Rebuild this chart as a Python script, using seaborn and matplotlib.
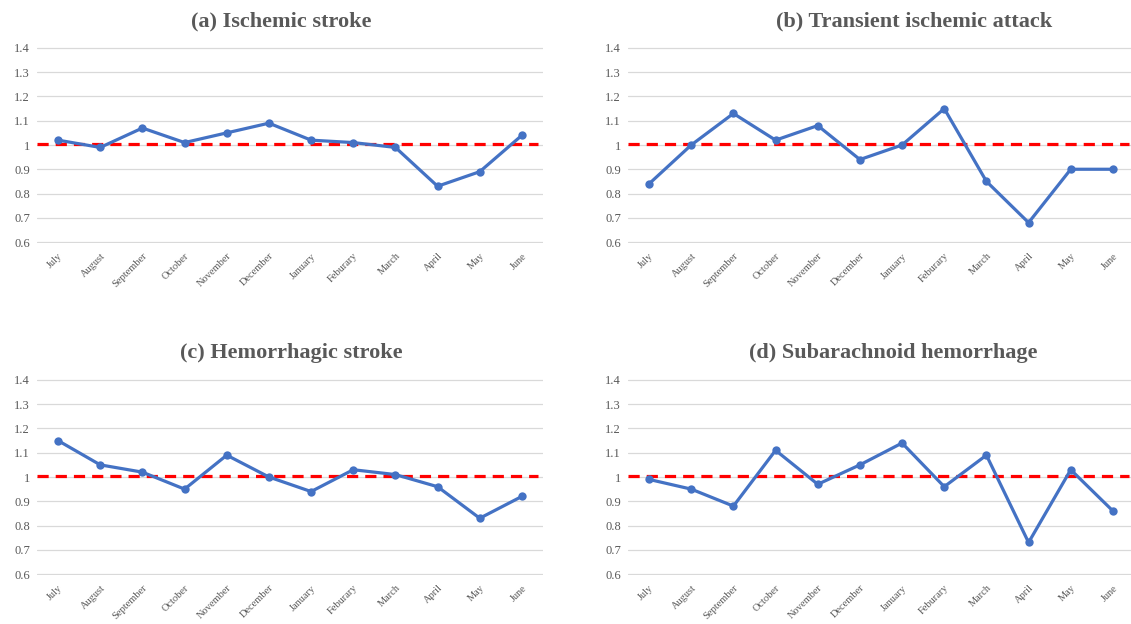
import matplotlib
matplotlib.use("Agg")
import matplotlib.pyplot as plt
import seaborn as sns
import pandas as pd

months = ["July", "August", "September", "October", "November", "December",
          "January", "Feburary", "March", "April", "May", "June"]
ischemic = [1.02, 0.99, 1.07, 1.01, 1.05, 1.09, 1.02, 1.01, 0.99, 0.83, 0.89, 1.04]
tia = [0.84, 1.00, 1.13, 1.02, 1.08, 0.94, 1.00, 1.15, 0.85, 0.68, 0.90, 0.90]
hemorrhagic = [1.15, 1.05, 1.02, 0.95, 1.09, 1.00, 0.94, 1.03, 1.01, 0.96, 0.83, 0.92]
subarachnoid = [0.99, 0.95, 0.88, 1.11, 0.97, 1.05, 1.14, 0.96, 1.09, 0.73, 1.03, 0.86]
titles = ["(a) Ischemic stroke", "(b) Transient ischemic attack",
          "(c) Hemorrhagic stroke", "(d) Subarachnoid hemorrhage"]
yticks = [0.6, 0.7, 0.8, 0.9, 1.0, 1.1, 1.2, 1.3, 1.4]
ytick_labels = ["0.6", "0.7", "0.8", "0.9", "1", "1.1", "1.2", "1.3", "1.4"]
ref_level = 1.005

sns.set_style("white")
plt.rcParams['font.family'] = ['Liberation Serif', 'DejaVu Serif']

W, H = 1131, 624
fig = plt.figure(figsize=(W / 100, H / 100), dpi=100)

# axes boxes in pixels: (left, top, right, bottom)
boxes = [(37, 48, 543, 242), (628, 48, 1134, 242),
         (37, 380, 543, 574), (628, 380, 1134, 574)]
title_pos = [(281, 21), (914, 21), (291, 353), (893, 353)]
series = [ischemic, tia, hemorrhagic, subarachnoid]

for vals, title, (l, t, r, b), (tx, ty) in zip(series, titles, boxes, title_pos):
    ax = fig.add_axes([l / W, 1 - (b + 1) / H, (r - l) / W, (b - t + 2) / H])
    df = pd.DataFrame({"month": months, "value": vals})
    df["pos"] = range(len(months))
    ax.axhline(ref_level, xmin=0, xmax=0.99, color="#FF0000", lw=2.3,
               ls=(0, (3.5, 2.2)), zorder=3)
    sns.lineplot(data=df, x="pos", y="value", ax=ax, color="#4472C4",
                 lw=2.3, marker="o", markersize=6, markeredgewidth=0,
                 zorder=4)
    ax.set_xlim(-0.5, len(months) - 0.5)
    ax.set_ylim(0.596, 1.404)
    ax.set_yticks(yticks)
    ax.set_yticklabels(ytick_labels, fontsize=9, color="#595959")
    ax.set_xticks(range(len(months)))
    ax.set_xticklabels(months, rotation=45, ha="right", rotation_mode="anchor",
                       fontsize=7.5, color="#595959")
    ax.tick_params(axis="both", length=0, pad=5)
    ax.tick_params(axis="x", pad=6)
    ax.grid(axis="y", color="#D9D9D9", lw=0.9)
    ax.set_axisbelow(True)
    for s in ax.spines.values():
        s.set_visible(False)
    ax.set_xlabel("")
    ax.set_ylabel("")
    fig.text(tx / W, 1 - ty / H, title, ha="center", va="center",
             fontsize=16, fontweight="bold", color="#595959")

fig.savefig("out.png", dpi=100)
